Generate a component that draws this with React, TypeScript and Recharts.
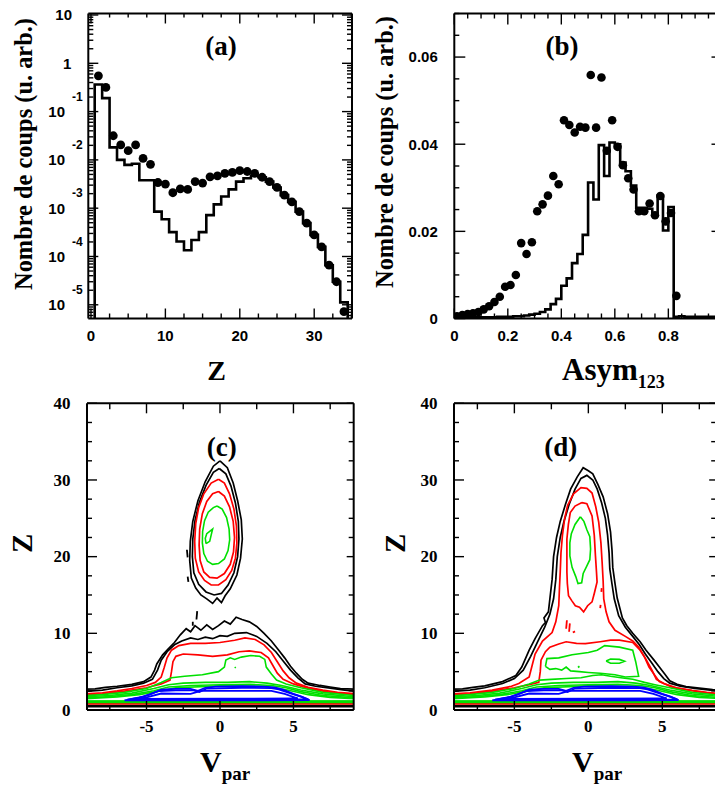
import React from 'react';
import { ComposedChart, Line, Scatter, XAxis, YAxis } from 'recharts';

type Pt = [number, number];

const SANS = '"Liberation Sans", Arial, sans-serif';
const SERIF = '"Liberation Serif", "Times New Roman", serif';

// ---------------- Panel (a) : Z distribution (log) ----------------
const A_Z = [1, 2, 3, 4, 5, 6, 7, 8, 9, 10, 11, 12, 13, 14, 15, 16, 17, 18, 19, 20, 21, 22, 23, 24, 25, 26, 27, 28, 29, 30, 31, 32, 33, 34];
const A_HIST = [0.363, 0.19, 0.0182, 0.01, 0.0079, 0.0083, 0.0038, 0.0038, 0.00085, 0.00059, 0.00032, 0.000204, 0.000135, 0.000219, 0.00032, 0.00072, 0.0012, 0.00174, 0.00245, 0.00355, 0.00417, 0.00468, 0.00437, 0.00355, 0.00269, 0.00186, 0.00135, 0.00085, 0.00049, 0.00028, 0.000158, 0.000066, 0.00003, 0.0000112];
const A_DOTS = [0.55, 0.316, 0.0316, 0.0204, 0.0155, 0.0204, 0.0107, 0.0081, 0.0034, 0.00316, 0.00209, 0.00251, 0.00245, 0.00355, 0.00331, 0.00447, 0.00468, 0.00525, 0.0055, 0.006, 0.00575, 0.00525, 0.00437, 0.00355, 0.00269, 0.00186, 0.00135, 0.00085, 0.00049, 0.00028, 0.000158, 0.000066, 0.00003, 0.0000072];
const A_X_TICKS = [0, 2.5, 5, 7.5, 10, 12.5, 15, 17.5, 20, 22.5, 25, 27.5, 30, 32.5, 35];
const A_Y_DECADES = [1e-6, 1e-5, 1e-4, 1e-3, 1e-2, 1e-1, 1, 10];
const A_X_DOMAIN: [number, number] = [-0.36, 35.08];
const A_Y_DOMAIN: [number, number] = [5.2e-6, 10.74];

// ---------------- Panel (b) : Asym123 ----------------
const B_BIN_START = [0, 0.02, 0.04, 0.06, 0.08, 0.1, 0.12, 0.14, 0.16, 0.18, 0.2, 0.22, 0.24, 0.26, 0.28, 0.3, 0.32, 0.34, 0.36, 0.38, 0.4, 0.42, 0.44, 0.46, 0.48, 0.5, 0.52, 0.54, 0.56, 0.58, 0.6, 0.62, 0.64, 0.66, 0.68, 0.7, 0.72, 0.74, 0.76, 0.78, 0.8, 0.82, 0.84, 0.86, 0.88, 0.9, 0.92, 0.94, 0.96, 0.98, 1.0];
const B_HIST = [0.0003, 0.0003, 0.0003, 0.0003, 0.0003, 0.0003, 0.0003, 0.0003, 0.0004, 0.0004, 0.0004, 0.0005, 0.0005, 0.0007, 0.0009, 0.0011, 0.0015, 0.0021, 0.0033, 0.0045, 0.0075, 0.0092, 0.0127, 0.0148, 0.0192, 0.0312, 0.0273, 0.0398, 0.0327, 0.0404, 0.04, 0.0358, 0.0338, 0.0305, 0.0254, 0.0254, 0.0252, 0.024, 0.0282, 0.0202, 0.0256, 0.0004, 0.0005, 0.0004, 0.0004, 0.0004, 0.0004, 0.0004, 0.0004, 0.0004, 0.0004];
const B_DOT_X = [0.01, 0.03, 0.05, 0.07, 0.09, 0.11, 0.13, 0.15, 0.17, 0.19, 0.21, 0.23, 0.25, 0.27, 0.29, 0.31, 0.33, 0.35, 0.37, 0.39, 0.41, 0.43, 0.45, 0.47, 0.49, 0.51, 0.53, 0.55, 0.57, 0.59, 0.61, 0.63, 0.65, 0.67, 0.69, 0.71, 0.73, 0.75, 0.77, 0.79, 0.81, 0.83];
const B_DOTS = [0.0005, 0.0008, 0.001, 0.0012, 0.0015, 0.0021, 0.0028, 0.0038, 0.005, 0.0073, 0.0077, 0.01, 0.0173, 0.0148, 0.0175, 0.0246, 0.0262, 0.0282, 0.0327, 0.0308, 0.0455, 0.0444, 0.0427, 0.044, 0.0438, 0.0559, 0.0438, 0.0553, 0.0385, 0.0455, 0.0394, 0.0352, 0.0322, 0.0296, 0.0246, 0.0246, 0.0264, 0.0237, 0.0281, 0.0223, 0.0242, 0.0052];
const B_X_TICKS = [0, 0.05, 0.1, 0.15, 0.2, 0.25, 0.3, 0.35, 0.4, 0.45, 0.5, 0.55, 0.6, 0.65, 0.7, 0.75, 0.8, 0.85, 0.9, 0.95];
const B_Y_TICKS = [0, 0.005, 0.01, 0.015, 0.02, 0.025, 0.03, 0.035, 0.04, 0.045, 0.05, 0.055, 0.06, 0.065, 0.07];
const B_Y_MAJOR = [0.02, 0.04, 0.06];
const B_X_DOMAIN: [number, number] = [0, 0.98];
const B_Y_DOMAIN: [number, number] = [0, 0.07];

// ---------------- Panels (c),(d) : Z vs Vpar contours ----------------
const CD_X_TICKS = [-7.5, -5, -2.5, 0, 2.5, 5, 7.5];
const CD_Y_TICKS = [0, 2.5, 5, 7.5, 10, 12.5, 15, 17.5, 20, 22.5, 25, 27.5, 30, 32.5, 35, 37.5, 40];
const C_X_DOMAIN: [number, number] = [-9.05, 9.1];
const D_X_DOMAIN: [number, number] = [-9.08, 8.64];
const CD_Y_DOMAIN: [number, number] = [0, 40];

// (c) upper fragment blob
const C_BLOB_BLACK1: Pt[] = [[0, 32.5], [0.5, 31.6], [0.9, 29.6], [1.2, 27.3], [1.45, 24.8], [1.52, 22.3], [1.4, 19.8], [1.15, 17.6], [0.7, 15.8], [0.35, 14.9], [0.1, 14.0], [-0.2, 14.6], [-0.5, 13.9], [-0.9, 14.5], [-1.3, 15.0], [-1.65, 15.9], [-1.95, 17.2], [-2.06, 19.5], [-2.02, 22.0], [-1.85, 24.6], [-1.5, 27.3], [-1.0, 29.8], [-0.45, 31.8], [0, 32.5]];
const C_BLOB_BLACK2: Pt[] = [[-0.05, 31.5], [0.4, 30.8], [0.75, 29.2], [1.05, 27.0], [1.25, 24.6], [1.29, 22.3], [1.2, 20.0], [0.95, 17.9], [0.55, 16.3], [0.1, 15.2], [-0.4, 15.0], [-0.95, 15.4], [-1.45, 16.4], [-1.78, 17.9], [-1.88, 20.0], [-1.85, 22.3], [-1.7, 24.7], [-1.4, 27.1], [-0.95, 29.3], [-0.45, 31.0], [-0.05, 31.5]];
const C_BLOB_RED1: Pt[] = [[-0.1, 30.1], [0.3, 29.6], [0.65, 28.2], [0.95, 26.2], [1.12, 24.0], [1.15, 21.8], [1.05, 19.8], [0.8, 18.2], [0.4, 17.0], [-0.1, 16.3], [-0.6, 16.3], [-1.05, 16.9], [-1.45, 18.0], [-1.68, 19.8], [-1.72, 22.0], [-1.65, 24.3], [-1.45, 26.4], [-1.1, 28.2], [-0.6, 29.6], [-0.1, 30.1]];
const C_BLOB_RED2: Pt[] = [[-0.1, 28.5], [0.3, 27.9], [0.65, 26.5], [0.9, 24.6], [0.99, 22.5], [0.92, 20.6], [0.7, 19.0], [0.3, 17.8], [-0.2, 17.2], [-0.7, 17.3], [-1.1, 18.0], [-1.35, 19.5], [-1.42, 21.5], [-1.38, 23.6], [-1.2, 25.6], [-0.9, 27.2], [-0.5, 28.2], [-0.1, 28.5]];
const C_BLOB_GREEN: Pt[] = [[-0.2, 26.6], [0.15, 26.2], [0.45, 25.1], [0.62, 23.6], [0.66, 22.2], [0.55, 20.8], [0.3, 19.7], [-0.1, 19.1], [-0.5, 19.0], [-0.85, 19.4], [-1.1, 20.4], [-1.2, 21.8], [-1.18, 23.3], [-1.05, 24.7], [-0.8, 25.8], [-0.45, 26.4], [-0.2, 26.6]];
const C_BLOB_GREEN_IN: Pt[] = [[-0.95, 21.7], [-0.7, 22.0], [-0.6, 22.8], [-0.5, 23.6], [-0.7, 23.3], [-0.9, 23.0], [-1.0, 22.4], [-0.95, 21.7]];
const C_SPECK_1: Pt[] = [[-1.6, 11.8], [-1.55, 12.9]];
const C_SPECK_2: Pt[] = [[-2.2, 19.9], [-2.25, 20.9]];
const C_SPECK_3: Pt[] = [[-2.15, 16.7], [-2.2, 17.4]];
const C_SPECK_4: Pt[] = [[-1.85, 11.0], [-1.85, 11.5]];

// (c) lower band (upper boundaries, left to right)
const C_BLACK1_TOP: Pt[] = [[-9.3, 2.7], [-8.5, 2.75], [-7.8, 2.95], [-7, 3.1], [-6, 3.35], [-5.2, 3.7], [-4.7, 4.3], [-4.45, 5.2], [-4.3, 6.0], [-3.9, 7.2], [-3.5, 8.0], [-3.1, 8.8], [-2.7, 9.8], [-2.3, 10.6], [-2.0, 10.2], [-1.7, 11.0], [-1.3, 10.4], [-0.9, 11.1], [-0.5, 10.5], [-0.1, 11.0], [0.3, 11.6], [0.7, 11.2], [1.1, 12.1], [1.5, 11.8], [2.0, 11.5], [2.5, 10.9], [3.0, 10.0], [3.5, 9.0], [4.0, 7.8], [4.4, 6.8], [4.8, 5.7], [5.2, 4.8], [5.6, 4.0], [6.0, 3.5], [6.8, 3.2], [7.5, 3.0], [8.2, 2.8], [9.3, 2.7]];
const C_BLACK2_TOP: Pt[] = [[-9.3, 2.4], [-8, 2.6], [-7, 2.9], [-6, 3.15], [-5.2, 3.5], [-4.6, 4.0], [-4.25, 5.2], [-4.0, 6.5], [-3.6, 7.6], [-3.1, 8.5], [-2.6, 9.0], [-2.0, 9.4], [-1.5, 9.2], [-1.0, 9.5], [-0.5, 9.3], [0, 9.7], [0.5, 9.6], [1.0, 10.0], [1.8, 10.1], [2.5, 9.6], [3.2, 8.7], [3.8, 7.6], [4.3, 6.4], [4.8, 5.2], [5.3, 4.2], [5.8, 3.4], [6.5, 3.1], [7.5, 2.85], [8.5, 2.6], [9.3, 2.4]];
const C_RED1_TOP: Pt[] = [[-9.3, 2.1], [-8, 2.25], [-7, 2.5], [-6, 2.8], [-5, 3.2], [-4.4, 3.6], [-4.0, 4.3], [-3.8, 5.5], [-3.6, 6.8], [-3.3, 7.8], [-2.8, 8.4], [-2.0, 8.7], [-1.0, 8.7], [0, 8.8], [1.0, 9.1], [1.7, 9.4], [2.4, 9.2], [3.0, 8.5], [3.5, 7.5], [3.9, 6.3], [4.3, 5.1], [4.7, 4.2], [5.2, 3.5], [6, 2.95], [7, 2.6], [8, 2.3], [9.3, 2.1]];
const C_RED2_TOP: Pt[] = [[-9.3, 1.95], [-8, 2.1], [-6.5, 2.45], [-5, 2.9], [-4.0, 3.4], [-3.4, 3.9], [-3.3, 5.0], [-3.2, 6.3], [-3.0, 7.0], [-2.5, 7.3], [-1.5, 7.2], [-0.5, 7.0], [0.5, 7.2], [1.3, 7.6], [2.0, 7.7], [2.8, 7.5], [3.3, 6.8], [3.6, 5.8], [3.9, 4.8], [4.3, 4.0], [5, 3.4], [6, 2.8], [7.5, 2.3], [9.3, 1.95]];
const C_GREEN1_TOP: Pt[] = [[-9.3, 1.85], [-8, 2.0], [-6.5, 2.3], [-5, 2.8], [-4, 3.6], [-3.3, 4.2], [-2.4, 4.4], [-1.2, 4.6], [-0.1, 5.0], [0.3, 5.6], [0.4, 6.5], [0.7, 6.8], [1.0, 6.6], [1.45, 6.9], [2.1, 7.1], [2.7, 7.0], [3.05, 6.6], [3.15, 5.6], [3.5, 4.7], [3.85, 3.9], [4.5, 3.4], [5.5, 2.9], [7, 2.3], [9.3, 1.85]];
const C_GREEN_SPECK: Pt[] = [[1.0, 5.5], [1.08, 5.6]];

// shared low-Z band (both panels)
const BAND_GREEN2_TOP: Pt[] = [[-9.3, 1.7], [-7.5, 1.9], [-6, 2.2], [-4.5, 2.8], [-3.5, 3.3], [-2.5, 3.5], [-1, 3.6], [0.5, 3.6], [2, 3.7], [3.2, 3.5], [4.2, 3.2], [5.5, 2.6], [7, 2.1], [9.3, 1.7]];
const BAND_GREEN3_TOP: Pt[] = [[-9.3, 1.55], [-7.5, 1.75], [-6, 2.0], [-4.5, 2.5], [-3.5, 3.0], [-2, 3.2], [0, 3.3], [2, 3.35], [3.5, 3.2], [4.5, 2.9], [5.5, 2.4], [7, 1.9], [9.3, 1.55]];
const BAND_GREEN4_TOP: Pt[] = [[-9.3, 1.45], [-7, 1.7], [-5.5, 2.0], [-4.3, 2.4], [-3, 2.9], [0, 3.15], [3, 3.1], [4.6, 2.6], [6, 2.0], [7.5, 1.65], [9.3, 1.45]];
const BAND_BOTTOMS = { black1: 0.45, black2: 0.58, red1: 0.78, red2: 0.88, green1: 1.0, green2: 1.06, green3: 1.12, green4: 1.18 };
const BLUE_OUTER: Pt[] = [[-6.5, 1.25], [-5.5, 1.6], [-4.8, 2.0], [-4.0, 2.65], [-3.0, 2.75], [-2.0, 2.75], [-1.5, 2.5], [-1.0, 2.9], [-0.3, 3.05], [1.5, 3.1], [3.0, 3.05], [3.7, 2.95], [4.3, 2.65], [5.0, 2.1], [5.6, 1.7], [6.1, 1.3], [3, 1.25], [0, 1.25], [-3, 1.25], [-6.5, 1.25]];
const BLUE_MID: Pt[] = [[-6.3, 1.35], [-5.2, 1.75], [-4.2, 2.45], [-3.0, 2.55], [-1.8, 2.55], [-1.4, 2.35], [-0.9, 2.8], [1.5, 2.9], [3.5, 2.85], [4.0, 2.7], [4.6, 2.3], [5.5, 1.75], [6.0, 1.38], [0, 1.36], [-6.3, 1.35]];
const BLUE_INNER: Pt[] = [[-5.6, 1.45], [-5.0, 1.65], [-4.0, 2.15], [-2.0, 2.1], [-1.3, 2.5], [3.5, 2.5], [4.4, 2.1], [5.3, 1.5], [0, 1.47], [-5.6, 1.45]];

// (d) merged structure
const D_BLACK1_TOP: Pt[] = [[-9.3, 2.7], [-8.5, 2.75], [-7.8, 2.95], [-7, 3.15], [-5.8, 3.7], [-4.9, 4.5], [-4.5, 5.6], [-4.0, 7.8], [-3.6, 9.3], [-3.1, 11.0], [-2.9, 11.4], [-3.0, 12.0], [-2.7, 12.8], [-2.6, 14.5], [-2.45, 17.0], [-2.35, 20.0], [-2.15, 22.5], [-1.9, 24.6], [-1.55, 26.8], [-1.2, 28.8], [-0.75, 30.4], [-0.35, 31.6], [0.0, 31.2], [0.3, 30.8], [0.65, 29.4], [1.0, 27.8], [1.3, 25.6], [1.5, 23.2], [1.6, 20.8], [1.65, 18.6], [1.8, 16.5], [1.95, 14.6], [2.3, 12.0], [2.6, 11.0], [3.0, 10.0], [3.5, 8.9], [3.9, 7.8], [4.4, 6.6], [4.8, 5.6], [5.2, 4.6], [5.5, 3.8], [6.0, 3.35], [6.6, 3.05], [7.5, 2.85], [8.4, 2.65], [9.3, 2.6]];
const D_BLACK2_TOP: Pt[] = [[-9.3, 2.4], [-8, 2.6], [-7, 2.9], [-5.8, 3.45], [-5.0, 4.1], [-4.4, 5.2], [-3.9, 7.0], [-3.4, 9.0], [-2.95, 10.8], [-2.6, 12.5], [-2.35, 14.5], [-2.2, 17.0], [-2.1, 20.0], [-1.9, 22.5], [-1.65, 24.6], [-1.3, 26.8], [-0.9, 28.8], [-0.5, 30.2], [-0.1, 30.6], [0.3, 30.0], [0.6, 28.8], [0.9, 27.0], [1.15, 25.0], [1.3, 22.8], [1.4, 20.5], [1.45, 18.4], [1.6, 16.4], [1.75, 14.5], [2.05, 12.3], [2.5, 10.8], [3.0, 9.6], [3.45, 8.5], [3.85, 7.3], [4.3, 6.1], [4.7, 5.0], [5.1, 4.1], [5.5, 3.5], [6.2, 3.1], [7.2, 2.8], [8.4, 2.55], [9.3, 2.4]];
const D_RED1_TOP: Pt[] = [[-9.3, 2.1], [-8, 2.25], [-6.5, 2.6], [-5.2, 3.1], [-4.7, 3.45], [-4.0, 4.3], [-3.8, 5.8], [-3.6, 7.3], [-3.1, 9.0], [-2.45, 10.1], [-2.2, 11.5], [-2.0, 13.6], [-1.95, 16.0], [-1.9, 18.0], [-1.85, 20.5], [-1.75, 22.8], [-1.6, 25.0], [-1.4, 26.7], [-1.0, 28.2], [-0.5, 29.0], [-0.1, 28.9], [0.25, 28.3], [0.5, 26.5], [0.7, 24.5], [0.85, 21.8], [0.93, 19.3], [1.0, 16.8], [1.04, 14.5], [1.2, 12.8], [1.4, 11.5], [1.8, 10.4], [2.5, 9.6], [3.0, 9.0], [3.4, 8.2], [3.8, 6.9], [4.1, 5.6], [4.5, 4.5], [4.8, 3.7], [5.7, 2.95], [7, 2.55], [8, 2.3], [9.3, 2.1]];
const D_RED2_TOP: Pt[] = [[-9.3, 1.95], [-8, 2.1], [-6.5, 2.45], [-5, 2.9], [-4, 3.3], [-3.35, 3.6], [-3.25, 5.0], [-3.2, 6.5], [-2.9, 7.6], [-2.6, 8.2], [-2.0, 8.6], [-1.5, 8.9], [-0.8, 8.7], [-0.2, 8.65], [0.8, 8.9], [1.5, 9.1], [2.1, 9.1], [3.0, 8.8], [3.5, 7.8], [3.9, 6.6], [4.3, 5.2], [4.6, 4.0], [5.1, 3.45], [6, 2.85], [7.5, 2.35], [9.3, 1.95]];
const D_RED3: Pt[] = [[-0.43, 27.05], [-0.1, 26.9], [0.25, 25.3], [0.4, 22.8], [0.48, 20.1], [0.55, 18.0], [0.59, 16.7], [0.4, 15.2], [0.25, 14.1], [-0.05, 13.6], [-0.32, 12.8], [-0.6, 13.4], [-0.88, 13.6], [-1.1, 14.2], [-1.34, 14.9], [-1.42, 16.5], [-1.45, 18.0], [-1.45, 20.0], [-1.45, 22.3], [-1.35, 24.2], [-1.22, 25.75], [-0.9, 26.6], [-0.43, 27.05]];
const D_RED_SPECK_1: Pt[] = [[-1.5, 10.6], [-1.45, 11.7]];
const D_RED_SPECK_2: Pt[] = [[-1.3, 10.2], [-1.25, 11.3]];
const D_RED_SPECK_3: Pt[] = [[-1.05, 10.1], [-0.9, 10.25]];
const D_RED_SPECK_4: Pt[] = [[0.88, 15.4], [0.9, 15.9]];
const D_RED_SPECK_5: Pt[] = [[0.8, 13.3], [0.83, 13.7]];
const D_GREEN_UP: Pt[] = [[-0.54, 25.2], [-0.3, 24.6], [-0.1, 23.5], [0.1, 22.6], [0.15, 21.0], [0.1, 19.6], [-0.1, 18.8], [-0.35, 17.8], [-0.45, 16.6], [-0.7, 16.5], [-0.85, 17.4], [-1.1, 18.6], [-1.25, 20.1], [-1.25, 21.8], [-1.15, 23.0], [-0.9, 24.2], [-0.54, 25.2]];
const D_GREEN_HUMP: Pt[] = [[-2.9, 5.7], [-2.8, 6.7], [-2.0, 6.8], [-1.1, 7.2], [0.0, 7.5], [0.6, 7.8], [1.1, 8.4], [2.1, 8.2], [3.0, 7.8], [3.2, 6.3], [3.4, 4.4], [2.5, 4.3], [1.8, 4.6], [0.8, 4.8], [0.0, 4.9], [-0.6, 5.0], [-1.2, 5.1], [-1.5, 5.6], [-1.8, 5.2], [-2.2, 5.4], [-2.6, 5.3], [-2.9, 5.7]];
const D_GREEN_SMALL: Pt[] = [[1.2, 6.4], [1.5, 6.65], [2.1, 6.6], [2.45, 6.35], [2.1, 6.1], [1.5, 6.1], [1.2, 6.4]];
const D_GREEN_SPECK: Pt[] = [[-0.7, 5.55], [-0.6, 5.7]];
const D_GREEN1_TOP: Pt[] = [[-9.3, 1.85], [-8, 2.0], [-6.5, 2.3], [-5, 2.8], [-4, 3.4], [-3.3, 3.9], [-2.5, 4.0], [-1.5, 4.1], [-0.5, 4.2], [0.3, 4.5], [0.9, 4.6], [1.5, 4.4], [2.2, 4.2], [3.0, 4.0], [3.8, 3.6], [4.5, 3.3], [5.5, 2.9], [7, 2.3], [9.3, 1.85]];

// ---------------- helpers ----------------
const BLACK = '#000000';
const RED = '#ff0000';
const GREEN = '#00e000';
const BLUE = '#0000ff';
const THIN = 0.01; // axis band size (must be > 0 for Recharts to draw the axis)

const toXY = (a: Pt[]) => a.map(([x, y]) => ({ x, y }));
const closeBand = (top: Pt[], zb: number): Pt[] => [...top, [9.3, zb], [-9.3, zb], top[0]];
const isMult = (v: number, m: number) => Math.abs(v / m - Math.round(v / m)) < 1e-6;

type Side = 'left' | 'right' | 'top' | 'bottom';
interface TickCfg {
  side: Side;
  major: (v: number) => boolean;
  majorLen: number;
  minorLen: number;
  label?: (v: number, x: number, y: number) => React.ReactNode;
}

function makeTick(cfg: TickCfg) {
  return function TickShape(props: any) {
    const { x, y, payload } = props;
    const v = Number(payload && payload.value);
    const isMaj = cfg.major(v);
    const len = isMaj ? cfg.majorLen : cfg.minorLen;
    let x2 = x;
    let y2 = y;
    if (cfg.side === 'left') x2 = x + len;
    else if (cfg.side === 'right') x2 = x - len;
    else if (cfg.side === 'bottom') y2 = y - len;
    else y2 = y + len;
    return (
      <g>
        {len > 0 ? <line x1={x} y1={y} x2={x2} y2={y2} stroke="#000" strokeWidth={1.4} /> : null}
        {isMaj && cfg.label ? cfg.label(v, x, y) : null}
      </g>
    );
  };
}

const sansText = (txt: string, x: number, y: number, anchor: string, size = 15) => (
  <text x={x} y={y} textAnchor={anchor as any} fontFamily={SANS} fontWeight="bold" fontSize={size} fill="#000">{txt}</text>
);
const serifText = (txt: string, x: number, y: number, anchor: string, size = 17) => (
  <text x={x} y={y} textAnchor={anchor as any} fontFamily={SERIF} fontWeight="bold" fontSize={size} fill="#000">{txt}</text>
);

const AXIS_LINE = { stroke: '#000', strokeWidth: 2 };

// tick renderers
const isDecade = (v: number) => Math.abs(Math.log10(v) - Math.round(Math.log10(v))) < 1e-6;
const A_TICK_BOTTOM = makeTick({ side: 'bottom', major: (v) => isMult(v, 10), majorLen: 10, minorLen: 5, label: (v, x, y) => sansText(String(v), x, y + 22, 'middle') });
const A_TICK_TOP = makeTick({ side: 'top', major: (v) => isMult(v, 10), majorLen: 10, minorLen: 4 });
const A_TICK_LEFT = makeTick({
  side: 'left', major: isDecade, majorLen: 10, minorLen: 5,
  label: (v, x, y) => {
    const k = Math.round(Math.log10(v));
    if (k === 1) return sansText('10', x - 16.3, y + 5.4, 'end');
    if (k === 0) return sansText('1', x - 17, y + 5.4, 'end');
    return (
      <g>
        {sansText('10', x - 23.3, y + 5.4, 'end')}
        {sansText(String(k), x - 5.6, y - 10.7, 'end', 12)}
      </g>
    );
  },
});
const A_TICK_RIGHT = makeTick({ side: 'right', major: isDecade, majorLen: 10, minorLen: 5 });

const B_TICK_BOTTOM = makeTick({ side: 'bottom', major: (v) => isMult(v, 0.2), majorLen: 10, minorLen: 5, label: (v, x, y) => sansText(v === 0 ? '0' : v.toFixed(1), x, y + 22, 'middle') });
const B_TICK_TOP = makeTick({ side: 'top', major: (v) => isMult(v, 0.2), majorLen: 11, minorLen: 5 });
const B_TICK_LEFT = makeTick({ side: 'left', major: (v) => isMult(v, 0.02), majorLen: 11, minorLen: 5, label: (v, x, y) => sansText(v === 0 ? '0' : v.toFixed(2), x - 16.5, y + 5.4, 'end') });
const B_TICK_RIGHT = makeTick({ side: 'right', major: () => true, majorLen: 5, minorLen: 5 });

const CD_TICK_BOTTOM = makeTick({ side: 'bottom', major: (v) => isMult(v, 5), majorLen: 9, minorLen: 5, label: (v, x, y) => serifText(String(v), x, y + 22.5, 'middle') });
const CD_TICK_TOP = makeTick({ side: 'top', major: (v) => isMult(v, 5), majorLen: 10, minorLen: 6 });
const CD_TICK_LEFT = makeTick({ side: 'left', major: (v) => isMult(v, 10), majorLen: 10, minorLen: 5, label: (v, x, y) => serifText(String(v), x - 16.5, y + 5.8, 'end') });
const CD_TICK_RIGHT = makeTick({ side: 'right', major: (v) => isMult(v, 10), majorLen: 7, minorLen: 5 });

const commonAxis = { tickLine: false, tickSize: 0, tickMargin: 0, interval: 0 as const, axisLine: AXIS_LINE, allowDataOverflow: true, type: 'number' as const };

const dotShape = (r: number) => (p: any) => <circle cx={p.cx} cy={p.cy} r={r} fill="#000" />;

// ---------------- Panel (a) ----------------
const A_HIST_DATA = [
  { x: A_Z[0] - 0.5, y: 1e-9 },
  ...A_Z.map((z, i) => ({ x: z - 0.5, y: A_HIST[i] })),
  { x: A_Z[A_Z.length - 1] + 0.5, y: 1e-9 },
];
const A_DOT_DATA = A_Z.map((z, i) => ({ x: z, y: A_DOTS[i] }));
const A_Y_TICKS: number[] = (() => {
  const out: number[] = [];
  A_Y_DECADES.forEach((d) => {
    for (let m = 1; m <= 9; m++) {
      const v = m * d;
      if (v >= A_Y_DOMAIN[0] && v <= A_Y_DOMAIN[1]) out.push(v);
    }
  });
  return out;
})();

function PanelA() {
  return (
    <ComposedChart width={360} height={395} margin={{ top: 13.5 - THIN, left: 88.3 - THIN, right: 8 - THIN, bottom: 76.5 - THIN }}>
      <XAxis xAxisId={0} dataKey="x" orientation="bottom" height={THIN} domain={A_X_DOMAIN} ticks={A_X_TICKS} tick={A_TICK_BOTTOM} {...commonAxis} />
      <XAxis xAxisId="top" dataKey="x" orientation="top" height={THIN} domain={A_X_DOMAIN} ticks={A_X_TICKS} tick={A_TICK_TOP} {...commonAxis} />
      <YAxis yAxisId={0} dataKey="y" orientation="left" width={THIN} scale="log" domain={A_Y_DOMAIN} ticks={A_Y_TICKS} tick={A_TICK_LEFT} {...commonAxis} />
      <YAxis yAxisId="right" dataKey="y" orientation="right" width={THIN} scale="log" domain={A_Y_DOMAIN} ticks={A_Y_TICKS} tick={A_TICK_RIGHT} {...commonAxis} />
      <Line data={A_HIST_DATA} xAxisId="top" yAxisId="right" dataKey="y" stroke="none" dot={false} isAnimationActive={false} legendType="none" />
      <Line data={A_HIST_DATA} xAxisId={0} yAxisId={0} dataKey="y" type="stepAfter" stroke="#000" strokeWidth={2.6} dot={false} isAnimationActive={false} />
      <Scatter data={A_DOT_DATA} xAxisId={0} yAxisId={0} dataKey="y" shape={dotShape(4.4)} isAnimationActive={false} />
    </ComposedChart>
  );
}

// ---------------- Panel (b) ----------------
const B_HIST_DATA = B_BIN_START.map((x, i) => ({ x, y: B_HIST[i] }));
const B_DOT_DATA = B_DOT_X.map((x, i) => ({ x, y: B_DOTS[i] }));

function PanelB() {
  return (
    <ComposedChart width={365} height={395} margin={{ top: 13.5 - THIN, left: 94.3 - THIN, right: 8.5 - THIN, bottom: 76.5 - THIN }}>
      <XAxis xAxisId={0} dataKey="x" orientation="bottom" height={THIN} domain={B_X_DOMAIN} ticks={B_X_TICKS} tick={B_TICK_BOTTOM} {...commonAxis} />
      <XAxis xAxisId="top" dataKey="x" orientation="top" height={THIN} domain={B_X_DOMAIN} ticks={B_X_TICKS} tick={B_TICK_TOP} {...commonAxis} />
      <YAxis yAxisId={0} dataKey="y" orientation="left" width={THIN} domain={B_Y_DOMAIN} ticks={B_Y_TICKS} tick={B_TICK_LEFT} {...commonAxis} />
      <YAxis yAxisId="right" dataKey="y" orientation="right" width={THIN} domain={B_Y_DOMAIN} ticks={B_Y_MAJOR} tick={B_TICK_RIGHT} {...commonAxis} />
      <Line data={B_HIST_DATA} xAxisId="top" yAxisId="right" dataKey="y" stroke="none" dot={false} isAnimationActive={false} legendType="none" />
      <Line data={B_HIST_DATA} xAxisId={0} yAxisId={0} dataKey="y" type="stepAfter" stroke="#000" strokeWidth={2.6} dot={false} isAnimationActive={false} />
      <Scatter data={B_DOT_DATA} xAxisId={0} yAxisId={0} dataKey="y" shape={dotShape(4.3)} isAnimationActive={false} />
    </ComposedChart>
  );
}

// ---------------- Panels (c),(d) ----------------
type Series = { id: string; pts: Pt[]; color: string; w: number };

const BAND_SHARED: Series[] = [
  { id: 'g2', pts: closeBand(BAND_GREEN2_TOP, BAND_BOTTOMS.green2), color: GREEN, w: 1.6 },
  { id: 'g3', pts: closeBand(BAND_GREEN3_TOP, BAND_BOTTOMS.green3), color: GREEN, w: 1.6 },
  { id: 'g4', pts: closeBand(BAND_GREEN4_TOP, BAND_BOTTOMS.green4), color: GREEN, w: 1.6 },
  { id: 'bo', pts: BLUE_OUTER, color: BLUE, w: 1.8 },
  { id: 'bm', pts: BLUE_MID, color: BLUE, w: 1.8 },
  { id: 'bi', pts: BLUE_INNER, color: BLUE, w: 1.8 },
];

const C_SERIES: Series[] = [
  { id: 'cb1', pts: closeBand(C_BLACK1_TOP, BAND_BOTTOMS.black1), color: BLACK, w: 1.7 },
  { id: 'cb2', pts: closeBand(C_BLACK2_TOP, BAND_BOTTOMS.black2), color: BLACK, w: 1.7 },
  { id: 'cr1', pts: closeBand(C_RED1_TOP, BAND_BOTTOMS.red1), color: RED, w: 1.7 },
  { id: 'cr2', pts: closeBand(C_RED2_TOP, BAND_BOTTOMS.red2), color: RED, w: 1.7 },
  { id: 'cg1', pts: closeBand(C_GREEN1_TOP, BAND_BOTTOMS.green1), color: GREEN, w: 1.6 },
  { id: 'cgs', pts: C_GREEN_SPECK, color: GREEN, w: 1.6 },
  ...BAND_SHARED,
  { id: 'cub1', pts: C_BLOB_BLACK1, color: BLACK, w: 1.7 },
  { id: 'cub2', pts: C_BLOB_BLACK2, color: BLACK, w: 1.7 },
  { id: 'cur1', pts: C_BLOB_RED1, color: RED, w: 1.7 },
  { id: 'cur2', pts: C_BLOB_RED2, color: RED, w: 1.7 },
  { id: 'cug', pts: C_BLOB_GREEN, color: GREEN, w: 1.6 },
  { id: 'cugi', pts: C_BLOB_GREEN_IN, color: GREEN, w: 1.6 },
  { id: 'cs1', pts: C_SPECK_1, color: BLACK, w: 1.8 },
  { id: 'cs2', pts: C_SPECK_2, color: BLACK, w: 1.8 },
  { id: 'cs3', pts: C_SPECK_3, color: BLACK, w: 1.8 },
  { id: 'cs4', pts: C_SPECK_4, color: BLACK, w: 1.8 },
];

const D_SERIES: Series[] = [
  { id: 'db1', pts: closeBand(D_BLACK1_TOP, BAND_BOTTOMS.black1), color: BLACK, w: 1.7 },
  { id: 'db2', pts: closeBand(D_BLACK2_TOP, BAND_BOTTOMS.black2), color: BLACK, w: 1.7 },
  { id: 'dr1', pts: closeBand(D_RED1_TOP, BAND_BOTTOMS.red1), color: RED, w: 1.7 },
  { id: 'dr2', pts: closeBand(D_RED2_TOP, BAND_BOTTOMS.red2), color: RED, w: 1.7 },
  { id: 'dr3', pts: D_RED3, color: RED, w: 1.7 },
  { id: 'drs1', pts: D_RED_SPECK_1, color: RED, w: 1.8 },
  { id: 'drs2', pts: D_RED_SPECK_2, color: RED, w: 1.8 },
  { id: 'drs3', pts: D_RED_SPECK_3, color: RED, w: 1.8 },
  { id: 'drs4', pts: D_RED_SPECK_4, color: RED, w: 1.8 },
  { id: 'drs5', pts: D_RED_SPECK_5, color: RED, w: 1.8 },
  { id: 'dg1', pts: closeBand(D_GREEN1_TOP, BAND_BOTTOMS.green1), color: GREEN, w: 1.6 },
  { id: 'dgu', pts: D_GREEN_UP, color: GREEN, w: 1.6 },
  { id: 'dgh', pts: D_GREEN_HUMP, color: GREEN, w: 1.6 },
  { id: 'dgs', pts: D_GREEN_SMALL, color: GREEN, w: 1.6 },
  { id: 'dgsp', pts: D_GREEN_SPECK, color: GREEN, w: 1.8 },
  ...BAND_SHARED,
];

function ContourPanel({ series, xDomain, width }: { series: Series[]; xDomain: [number, number]; width: number }) {
  return (
    <ComposedChart width={width + 160} height={400} margin={{ top: 13.3 - THIN, left: 80 - THIN, right: 80 - THIN, bottom: 80 - THIN }}>
      <XAxis xAxisId={0} dataKey="x" orientation="bottom" height={THIN} domain={xDomain} ticks={CD_X_TICKS} tick={CD_TICK_BOTTOM} {...commonAxis} />
      <XAxis xAxisId="top" dataKey="x" orientation="top" height={THIN} domain={xDomain} ticks={CD_X_TICKS} tick={CD_TICK_TOP} {...commonAxis} />
      <YAxis yAxisId={0} dataKey="y" orientation="left" width={THIN} domain={CD_Y_DOMAIN} ticks={CD_Y_TICKS} tick={CD_TICK_LEFT} {...commonAxis} />
      <YAxis yAxisId="right" dataKey="y" orientation="right" width={THIN} domain={CD_Y_DOMAIN} ticks={CD_Y_TICKS} tick={CD_TICK_RIGHT} {...commonAxis} />
      <Line data={toXY(series[0].pts)} xAxisId="top" yAxisId="right" dataKey="y" stroke="none" dot={false} isAnimationActive={false} legendType="none" />
      {series.map((s) => (
        <Line key={s.id} data={toXY(s.pts)} xAxisId={0} yAxisId={0} dataKey="y" type="linear" stroke={s.color} strokeWidth={s.w} dot={false} isAnimationActive={false} />
      ))}
    </ComposedChart>
  );
}

// ---------------- Titles overlay ----------------
function Titles() {
  const t = { fontFamily: SERIF, fontWeight: 'bold' as const, fill: '#000' };
  return (
    <svg width={715} height={790} style={{ position: 'absolute', left: 0, top: 0, pointerEvents: 'none' }}>
      <text x={221} y={54.5} textAnchor="middle" fontSize={27} {...t}>(a)</text>
      <text x={562} y={54.5} textAnchor="middle" fontSize={27} {...t}>(b)</text>
      <text x={221.7} y={456} textAnchor="middle" fontSize={27} {...t}>(c)</text>
      <text x={560.8} y={456} textAnchor="middle" fontSize={27} {...t}>(d)</text>
      <text x={32} y={154} textAnchor="middle" fontSize={24.4} transform="rotate(-90 32 154)" {...t}>Nombre de coups (u. arb.)</text>
      <text x={392.5} y={152} textAnchor="middle" fontSize={24.4} transform="rotate(-90 392.5 152)" {...t}>Nombre de coups (u. arb.)</text>
      <text x={216.7} y={380} textAnchor="middle" fontSize={28} {...t}>Z</text>
      <text x={562} y={380} textAnchor="start" fontSize={31} {...t}>Asym<tspan fontSize={18} dy={8}>123</tspan></text>
      <text x={31.7} y={543.3} textAnchor="middle" fontSize={29} transform="rotate(-90 31.7 543.3)" {...t}>Z</text>
      <text x={405} y={543.3} textAnchor="middle" fontSize={29} transform="rotate(-90 405 543.3)" {...t}>Z</text>
      <text x={200} y={772} textAnchor="start" fontSize={30} {...t}>V<tspan fontSize={19} dy={8}>par</tspan></text>
      <text x={572} y={772} textAnchor="start" fontSize={30} {...t}>V<tspan fontSize={19} dy={8}>par</tspan></text>
    </svg>
  );
}

export default function App() {
  return (
    <div style={{ position: 'fixed', left: 0, top: 0, width: 715, height: 790, overflow: 'hidden', background: '#fff' }}>
      <div style={{ position: 'absolute', left: 0, top: 0 }}><PanelA /></div>
      <div style={{ position: 'absolute', left: 360, top: 0 }}><PanelB /></div>
      <div style={{ position: 'absolute', left: 87.3 - 80, top: 390 }}>
        <ContourPanel series={C_SERIES} xDomain={C_X_DOMAIN} width={354 - 87.3} />
      </div>
      <div style={{ position: 'absolute', left: 454.3 - 80, top: 390 }}>
        <ContourPanel series={D_SERIES} xDomain={D_X_DOMAIN} width={716.5 - 454.3} />
      </div>
      <Titles />
    </div>
  );
}
